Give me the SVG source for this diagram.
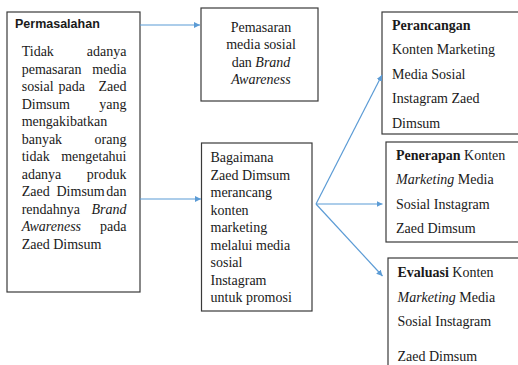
<svg xmlns="http://www.w3.org/2000/svg" width="518" height="365" viewBox="0 0 518 365">
<defs>
<marker id="ah" viewBox="0 0 6 6" refX="6" refY="3" markerWidth="6" markerHeight="6" markerUnits="userSpaceOnUse" orient="auto">
<path d="M0,0 L6,3 L0,6 z" fill="#5B9BD5"/>
</marker>
<style>
.box{fill:#fff;stroke:#3a3a3a;stroke-width:1.2}
.t{font-family:"Liberation Serif","Times New Roman",serif;font-size:14px;fill:#1a1a1a}
.h{font-family:"Liberation Sans",Arial,sans-serif;font-size:12.5px;font-weight:bold;fill:#1a1a1a}
.b{font-weight:bold}
.i{font-style:italic}
.e{text-anchor:end}
.c{text-anchor:middle}
.con{fill:none;stroke:#5B9BD5;stroke-width:1.2;marker-end:url(#ah)}
</style>
</defs>
<rect width="518" height="365" fill="#fff"/>
<g id="permasalahan">
<rect class="box" x="7" y="12" width="133" height="280"/>
<text class="h" x="15" y="28">Permasalahan</text>
<text class="t" x="21.7" y="56">Tidak</text><text class="t e" x="126.5" y="56">adanya</text>
<text class="t" x="21.7" y="73.5">pemasaran</text><text class="t e" x="126.5" y="73.5">media</text>
<text class="t" x="21.7" y="91">sosial</text><text class="t" x="58.5" y="91">pada</text><text class="t e" x="126.5" y="91">Zaed</text>
<text class="t" x="21.7" y="108.5">Dimsum</text><text class="t e" x="126.5" y="108.5">yang</text>
<text class="t" x="21.7" y="126">mengakibatkan</text>
<text class="t" x="21.7" y="143.5">banyak</text><text class="t e" x="126.5" y="143.5">orang</text>
<text class="t" x="21.7" y="161">tidak</text><text class="t e" x="126.5" y="161">mengetahui</text>
<text class="t" x="21.7" y="178.5">adanya</text><text class="t e" x="126.5" y="178.5">produk</text>
<text class="t" x="21.7" y="196">Zaed</text><text class="t" x="56.5" y="196">Dimsum</text><text class="t e" x="126.5" y="196">dan</text>
<text class="t" x="21.7" y="213.5">rendahnya</text><text class="t i e" x="126.5" y="213.5">Brand</text>
<text class="t i" x="21.7" y="231">Awareness</text><text class="t e" x="126.5" y="231">pada</text>
<text class="t" x="21.7" y="248.5">Zaed Dimsum</text>
</g>
<g id="pemasaran">
<rect class="box" x="201" y="8" width="117" height="93"/>
<text class="t c" x="261" y="31.5">Pemasaran</text>
<text class="t c" x="261" y="49">media sosial</text>
<text class="t c" x="261" y="66.5">dan <tspan class="i">Brand</tspan></text>
<text class="t c i" x="261" y="84">Awareness</text>
</g>
<g id="bagaimana">
<rect class="box" x="201.5" y="143" width="110.5" height="168"/>
<text class="t" x="210.5" y="162">Bagaimana</text>
<text class="t" x="210.5" y="179.5">Zaed Dimsum</text>
<text class="t" x="210.5" y="197">merancang</text>
<text class="t" x="210.5" y="214.5">konten</text>
<text class="t" x="210.5" y="232">marketing</text>
<text class="t" x="210.5" y="249.5">melalui media</text>
<text class="t" x="210.5" y="267">sosial</text>
<text class="t" x="210.5" y="284.5">Instagram</text>
<text class="t" x="210.5" y="302">untuk promosi</text>
</g>
<g id="perancangan">
<rect class="box" x="382" y="12" width="140" height="122"/>
<text class="t b" x="392" y="29.5">Perancangan</text>
<text class="t" x="392" y="54">Konten Marketing</text>
<text class="t" x="392" y="78.5">Media Sosial</text>
<text class="t" x="392" y="103">Instagram Zaed</text>
<text class="t" x="392" y="127.5">Dimsum</text>
</g>
<g id="penerapan">
<rect class="box" x="386" y="142" width="136" height="100"/>
<text class="t" x="396" y="159.5"><tspan class="b">Penerapan</tspan> Konten</text>
<text class="t" x="396" y="184"><tspan class="i">Marketing</tspan> Media</text>
<text class="t" x="396" y="208.5">Sosial Instagram</text>
<text class="t" x="396" y="233">Zaed Dimsum</text>
</g>
<g id="evaluasi">
<rect class="box" x="388" y="258" width="134" height="120"/>
<text class="t" x="397.5" y="277"><tspan class="b">Evaluasi</tspan> Konten</text>
<text class="t" x="397.5" y="301.5"><tspan class="i">Marketing</tspan> Media</text>
<text class="t" x="397.5" y="326">Sosial Instagram</text>
<text class="t" x="397.5" y="361">Zaed Dimsum</text>
</g>
<g id="connectors">
<path class="con" d="M140,25 H200"/>
<path class="con" d="M140,199 H201"/>
<path class="con" d="M316,204 L382,75"/>
<path class="con" d="M316,204 H382.5"/>
<path class="con" d="M316,204 L382.5,276"/>
</g>
</svg>
